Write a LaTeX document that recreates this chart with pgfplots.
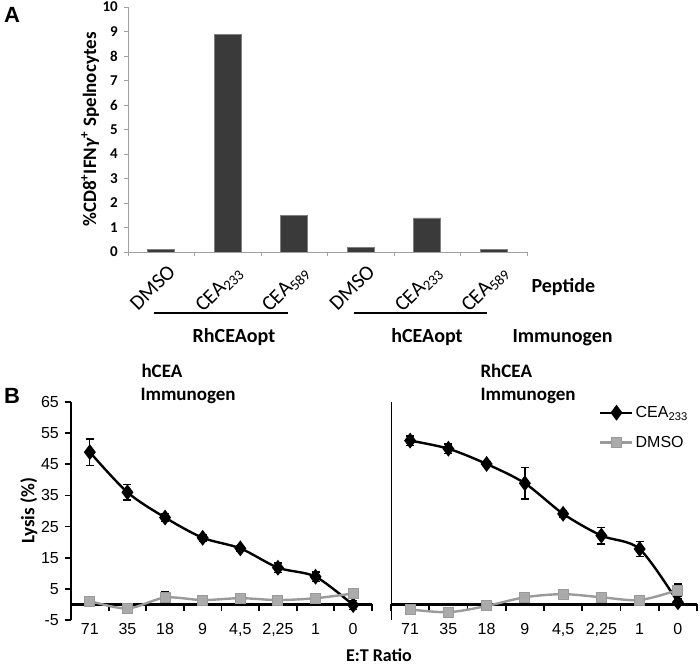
\documentclass[border=0pt]{standalone}
\usepackage{fontspec}
\setmainfont{Carlito}
\newfontfamily\arial{Liberation Sans}
\usepackage{pgfplots}
\pgfplotsset{compat=1.18}
\definecolor{barfill}{HTML}{3A3A3A}
\definecolor{axgray}{HTML}{A0A0A0}
\definecolor{dmso}{HTML}{9A9A9A}
\definecolor{dmsofill}{HTML}{ABABAB}
\newcommand\fs[2]{\fontsize{#1bp}{#2bp}\selectfont}

\pgfplotsset{
  lysisbox/.style={
    scale only axis, anchor=south west, width=#1, height=218bp,
    xmin=-0.5, xmax=7.5, ymin=-5, ymax=65, clip=false,
  },
  % the thick line at y=0 with its ticks between categories
  zeroline/.style={lysisbox=#1,
    axis x line=middle, axis y line=none,
    axis line style={-},
    x axis line style={black, line width=2.4bp},
    xtick={-0.5,0.5,...,7.5}, xticklabels={}, ytick=\empty,
    major tick length=7bp, tick align=outside,
    tick style={black, line width=1.8bp},
  },
  lysis/.style={lysisbox=#1,
    axis x line=bottom, axis y line=left,
    axis line style={-},
    x axis line style={draw=none},
    xtick={0,...,7},
    xticklabels={71,35,18,9,{4,5},{2,25},1,0},
    xticklabel style={font=\arial\fs{16}{19}, anchor=north, inner sep=0pt, yshift=-3bp},
    tick style={black, line width=1.8bp},
    major tick length=0pt, minor tick length=6bp, tick align=outside,
    /pgf/number format/assume math mode=true,
  },
  errs/.style={error bars/.cd, y dir=both, y explicit,
    error bar style={black, line width=1.3bp},
    error mark options={black, line width=1.3bp, mark size=4bp, rotate=90}},
  cea/.style={black, line width=2.4bp, smooth, mark=diamond*, mark size=6bp,
    mark options={solid, fill=black}, errs},
  dmsoline/.style={dmso, line width=2.4bp, smooth, mark=square*, mark size=5bp,
    mark options={solid, fill=dmsofill, draw=dmso, line width=1bp}, errs},
}

\begin{document}
\begin{tikzpicture}[x=1bp,y=1bp]
\useasboundingbox (0,0) rectangle (700,667);

% ---- panel A ----
\begin{axis}[
  at={(128bp,415bp)}, anchor=south west, scale only axis,
  width=399bp, height=245bp,
  ybar, bar width=27bp,
  xmin=-0.5, xmax=5.5, ymin=0, ymax=10,
  axis x line*=bottom, axis y line*=left,
  axis line style={axgray, line width=0.8bp},
  xtick={0,...,5},
  xticklabels={DMSO, CEA\textsubscript{233}, CEA\textsubscript{589}, DMSO, CEA\textsubscript{233}, CEA\textsubscript{589}},
  minor xtick={-0.5,0.5,...,5.5},
  ytick={0,...,10}, minor ytick={0,...,10},
  tick style={axgray, line width=0.8bp},
  major tick length=0pt, minor tick length=4bp, tick align=outside,
  xticklabel style={rotate=45, anchor=north east, inner sep=0pt,
    xshift=-4bp, yshift=-12bp, font=\fs{21}{25}},
  yticklabel style={font=\fs{15}{17}\bfseries, inner sep=0pt, xshift=-10bp},
  /pgf/number format/assume math mode=true,
  ylabel={\%CD8\textsuperscript{+}IFN\textit{γ}\textsuperscript{+} Spelnocytes},
  ylabel style={font=\fs{19}{23}\bfseries},
]
\addplot[fill=barfill, draw=gray, line width=0.6bp] coordinates {
  (0,0.10) (1,8.88) (2,1.48) (3,0.20) (4,1.39) (5,0.12)};
\end{axis}

\node[font=\arial\fs{22}{26}\bfseries] at (12,652) {A};
\node[font=\fs{20}{24}\bfseries, anchor=base west] at (528,374) {Peptide};
\node[font=\fs{20}{24}\bfseries, anchor=base west] at (509,324) {Immunogen};
\node[font=\fs{20}{24}\bfseries, anchor=base] at (234,324) {RhCEAopt};
\node[font=\fs{20}{24}\bfseries, anchor=base] at (427,324) {hCEAopt};
\draw[line width=1.2bp] (154,354) -- (288,354);
\draw[line width=1.2bp] (354,354) -- (487,354);

% ---- panel B, hCEA ----
\begin{axis}[zeroline=301bp, at={(71bp,47bp)}]
\end{axis}
\begin{axis}[lysis=301bp, at={(71bp,47bp)},
  y axis line style={black, line width=2.4bp},
  ytick={-5,5,...,65}, minor ytick={-5,5,...,65},
  yticklabel style={font=\arial\fs{16}{19}, inner sep=0pt, xshift=-12bp},
  ylabel={Lysis (\%)},
  ylabel style={font=\fs{19}{23}\bfseries},
]
\addplot[cea] coordinates {
  (0,48.9) +- (0,4.2) (1,36.0) +- (0,2.5) (2,27.9) +- (0,1.2) (3,21.4) +- (0,1.0)
  (4,18.0) +- (0,1.0) (5,11.8) +- (0,1.5) (6,8.9) +- (0,1.5) (7,-0.2) +- (0,1.5)};
\addplot[dmsoline] coordinates {
  (0,1.1) +- (0,0.8) (1,-1.3) +- (0,0.5) (2,2.2) +- (0,2.0) (3,1.4) +- (0,1.5)
  (4,2.0) +- (0,0.8) (5,1.4) +- (0,0.5) (6,2.0) +- (0,0.5) (7,3.5) +- (0,1.0)};
\end{axis}

% ---- panel B, RhCEA ----
\begin{axis}[zeroline=306bp, at={(391bp,47bp)}]
\end{axis}
\begin{axis}[lysis=306bp, at={(391bp,47bp)},
  y axis line style={black, line width=0.8bp},
  ytick=\empty,
  legend style={at={(0.68,0.99)}, anchor=north west, draw=none, fill=none,
    font=\arial\fs{16}{19}, row sep=13bp, inner sep=0pt},
  legend cell align=left,
  legend image code/.code={\draw[mark repeat=2, mark phase=2, #1]
    plot coordinates {(0bp,0bp) (16bp,0bp) (32bp,0bp)};},
]
\addplot[cea] coordinates {
  (0,52.6) +- (0,1.5) (1,50.0) +- (0,1.5) (2,45.1) +- (0,0.8) (3,38.9) +- (0,5.0)
  (4,29.1) +- (0,1.0) (5,22.1) +- (0,2.7) (6,17.8) +- (0,2.5) (7,0.7) +- (0,1.0)};
\addlegendentry{CEA\textsubscript{233}}
\addplot[dmsoline] coordinates {
  (0,-1.6) +- (0,0.5) (1,-2.5) +- (0,1.0) (2,-0.5) +- (0,0.8) (3,2.3) +- (0,0.8)
  (4,3.3) +- (0,0.8) (5,2.3) +- (0,0.5) (6,1.4) +- (0,0.5) (7,4.6) +- (0,2.0)};
\addlegendentry{DMSO}
\end{axis}

\node[font=\arial\fs{22}{26}\bfseries] at (12,271) {B};
\node[font=\fs{19}{23}\bfseries, anchor=base west] at (138,289) {hCEA};
\node[font=\fs{19}{23}\bfseries, anchor=base west] at (137,266) {Immunogen};
\node[font=\fs{19}{23}\bfseries, anchor=base west] at (477,289) {RhCEA};
\node[font=\fs{19}{23}\bfseries, anchor=base west] at (477,266) {Immunogen};
\node[font=\fs{18}{22}\bfseries, anchor=base, inner sep=0pt] at (379,5) {E:T Ratio};
\end{tikzpicture}
\end{document}
